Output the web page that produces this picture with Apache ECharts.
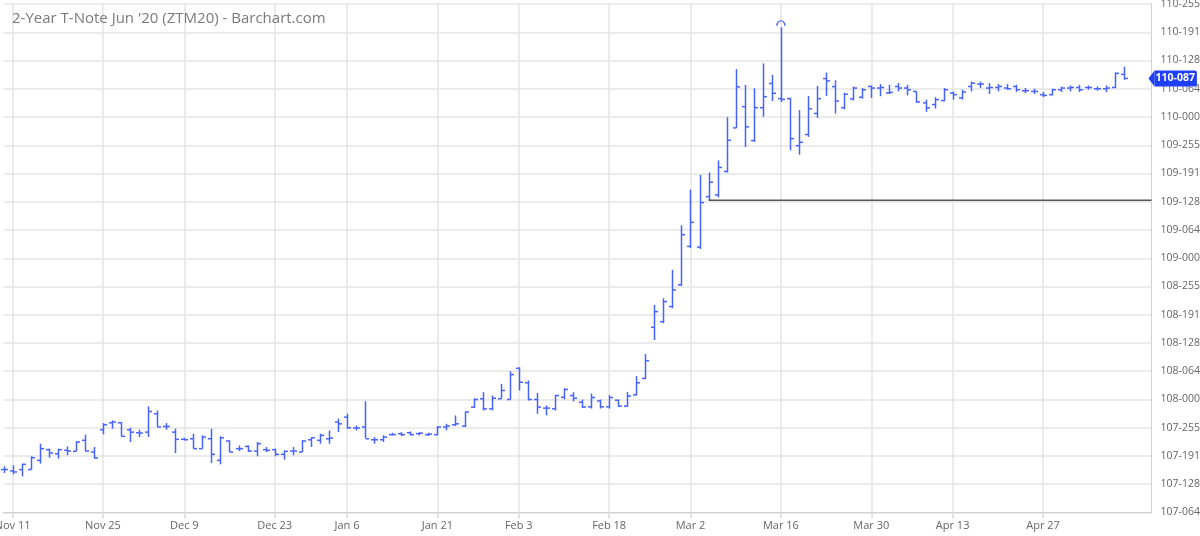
<!DOCTYPE html>
<html>
<head>
<meta charset="utf-8">
<script src="https://cdn.jsdelivr.net/npm/echarts@6/dist/echarts.min.js"></script>
<style>
html,body{margin:0;padding:0;background:#fff;}
#chart{width:1200px;height:536px;}
</style>
</head>
<body>
<div id="chart"></div>
<script>
const dates = ['Nov 8','Nov 11','Nov 12','Nov 13','Nov 14','Nov 15','Nov 18','Nov 19','Nov 20','Nov 21','Nov 22','Nov 25','Nov 26','Nov 27','Nov 29',
'Dec 2','Dec 3','Dec 4','Dec 5','Dec 6','Dec 9','Dec 10','Dec 11','Dec 12','Dec 13','Dec 16','Dec 17','Dec 18','Dec 19','Dec 20','Dec 23','Dec 24','Dec 26','Dec 27','Dec 30','Dec 31',
'Jan 2','Jan 3','Jan 6','Jan 7','Jan 8','Jan 9','Jan 10','Jan 13','Jan 14','Jan 15','Jan 16','Jan 17','Jan 21','Jan 22','Jan 23','Jan 24','Jan 27','Jan 28','Jan 29','Jan 30','Jan 31',
'Feb 3','Feb 4','Feb 5','Feb 6','Feb 7','Feb 10','Feb 11','Feb 12','Feb 13','Feb 14','Feb 18','Feb 19','Feb 20','Feb 21','Feb 24','Feb 25','Feb 26','Feb 27','Feb 28',
'Mar 2','Mar 3','Mar 4','Mar 5','Mar 6','Mar 9','Mar 10','Mar 11','Mar 12','Mar 13','Mar 16','Mar 17','Mar 18','Mar 19','Mar 20','Mar 23','Mar 24','Mar 25','Mar 26','Mar 27','Mar 30','Mar 31',
'Apr 1','Apr 2','Apr 3','Apr 6','Apr 7','Apr 8','Apr 9','Apr 13','Apr 14','Apr 15','Apr 16','Apr 17','Apr 20','Apr 21','Apr 22','Apr 23','Apr 24','Apr 27','Apr 28','Apr 29','Apr 30',
'May 1','May 4','May 5','May 6','May 7','May 8'];

const opens = [107.504,107.494,107.504,107.504,107.569,107.645,107.616,107.640,107.633,107.711,107.628,107.786,107.835,107.835,107.786,
107.765,107.769,107.899,107.809,107.769,107.718,107.722,107.652,107.722,107.569,107.706,107.652,107.668,107.635,107.645,107.645,107.612,107.635,107.628,107.715,107.711,
107.722,107.840,107.875,107.798,107.805,107.715,107.715,107.751,107.758,107.765,107.758,107.751,107.751,107.805,107.821,107.812,107.946,108.005,107.934,108.005,108.000,
108.221,108.118,108.000,107.939,107.934,108.016,108.028,107.981,107.948,107.990,107.948,107.995,107.953,108.033,108.149,108.511,108.551,108.658,108.812,
109.084,109.079,109.436,109.448,109.614,109.923,110.073,109.833,110.066,110.237,110.130,110.130,109.797,109.876,110.025,110.272,110.215,110.066,110.128,110.140,110.216,110.205,
110.170,110.216,110.205,110.181,110.100,110.088,110.116,110.170,110.135,110.216,110.233,110.205,110.209,110.205,110.216,110.186,110.181,110.158,110.158,110.193,110.205,
110.209,110.209,110.200,110.200,110.209,110.302];

const highs = [107.527,107.534,107.546,107.598,107.687,107.652,107.652,107.668,107.704,107.751,107.664,107.833,107.852,107.840,107.800,
107.786,107.951,107.922,107.833,107.793,107.729,107.758,107.746,107.793,107.739,107.711,107.675,107.675,107.699,107.664,107.652,107.640,107.664,107.711,107.734,107.758,
107.781,107.864,107.899,107.816,107.988,107.734,107.746,107.765,107.769,107.774,107.769,107.765,107.812,107.828,107.887,107.915,108.009,108.052,108.028,108.111,108.200,
108.228,108.134,108.047,107.958,108.033,108.080,108.052,108.000,108.042,108.000,108.031,108.000,108.054,108.166,108.322,108.670,108.717,108.918,109.233,
109.486,109.591,109.607,109.693,109.999,110.339,110.227,110.203,110.379,110.298,110.636,110.137,110.049,110.149,110.220,110.315,110.260,110.172,110.216,110.205,110.223,110.233,
110.228,110.240,110.228,110.181,110.123,110.140,110.205,110.181,110.193,110.251,110.251,110.240,110.233,110.233,110.228,110.205,110.200,110.177,110.200,110.216,110.223,
110.228,110.223,110.216,110.223,110.316,110.356];

const lows = [107.480,107.471,107.456,107.504,107.546,107.588,107.581,107.605,107.633,107.633,107.581,107.753,107.793,107.739,107.699,
107.734,107.734,107.805,107.786,107.621,107.711,107.652,107.652,107.551,107.541,107.628,107.635,107.628,107.598,107.628,107.598,107.574,107.605,107.628,107.664,107.687,
107.687,107.769,107.793,107.781,107.727,107.687,107.699,107.746,107.741,107.746,107.746,107.741,107.746,107.781,107.812,107.805,107.939,107.922,107.922,108.005,108.000,
108.064,107.993,107.899,107.887,107.922,108.000,107.986,107.941,107.936,107.936,107.936,107.948,107.948,108.028,108.144,108.421,108.540,108.646,108.805,
109.072,109.065,109.410,109.431,109.607,109.923,109.788,109.823,110.002,110.113,110.106,109.764,109.733,109.859,109.994,110.149,110.025,110.054,110.116,110.130,110.135,110.147,
110.163,110.181,110.153,110.100,110.037,110.060,110.112,110.123,110.123,110.181,110.205,110.163,110.181,110.193,110.177,110.170,110.163,110.140,110.153,110.177,110.181,
110.177,110.193,110.186,110.177,110.205,110.263];

const closes = [107.504,107.487,107.541,107.588,107.652,107.621,107.645,107.635,107.699,107.635,107.586,107.821,107.840,107.739,107.769,
107.762,107.915,107.805,107.809,107.718,107.715,107.652,107.734,107.612,107.729,107.628,107.652,107.635,107.687,107.640,107.612,107.633,107.635,107.706,107.729,107.746,
107.727,107.828,107.800,107.798,107.722,107.715,107.734,107.751,107.751,107.751,107.762,107.755,107.805,107.812,107.828,107.911,108.000,107.934,108.009,108.064,108.176,
108.122,108.000,107.946,107.939,108.028,108.071,108.009,107.946,108.014,107.948,108.014,107.953,108.024,108.118,108.274,108.622,108.693,108.776,109.167,
109.254,109.394,109.538,109.643,109.835,110.213,109.930,110.066,110.144,110.168,110.125,109.847,109.821,110.058,110.130,110.256,110.113,110.161,110.205,110.193,110.205,110.209,
110.174,110.205,110.193,110.107,110.065,110.123,110.193,110.158,110.177,110.240,110.233,110.209,110.216,110.200,110.193,110.186,110.181,110.153,110.193,110.205,110.209,
110.193,110.209,110.200,110.205,110.309,110.273];

const xTickLabels = ['Nov 11','Nov 25','Dec 9','Dec 23','Jan 6','Jan 21','Feb 3','Feb 18','Mar 2','Mar 16','Mar 30','Apr 13','Apr 27'];
const yTickLabels = ['107-064','107-128','107-191','107-255','108-000','108-064','108-128','108-191','108-255','109-000',
'109-064','109-128','109-191','109-255','110-000','110-064','110-128','110-191','110-255'];

const lastPrice = 110.2734;
const lastPriceLabel = '110-087';
const hLineValue = 109.41;
const hLineStart = 'Mar 4';
const titleText = "2-Year T-Note Jun '20 (ZTM20) - Barchart.com";

const barColor = '#4763ff';
const X_MIN = 0, X_MAX = 127;   // axis extent in category slots (empty slots after the last bar)
const data = dates.map((d, i) => [i, opens[i], highs[i], lows[i], closes[i]]);
const isTick = (idx, val) => xTickLabels.indexOf(val) >= 0;

let maxIdx = 0;
highs.forEach((h, i) => { if (h > highs[maxIdx]) maxIdx = i; });

const chart = echarts.init(document.getElementById('chart'), null, {renderer: 'canvas'});
chart.setOption({
  animation: false,
  backgroundColor: '#fff',
  title: {
    text: titleText, left: 7, top: 6,
    textStyle: {fontFamily: 'Open Sans', fontSize: 15, fontWeight: 'normal', color: '#7a7a7a'}
  },
  grid: {left: 3.5, right: 48.5, top: 4, bottom: 23.5, containLabel: false, outerBoundsMode: 'none'},
  xAxis: {
    type: 'category', data: dates, boundaryGap: false, min: X_MIN, max: X_MAX,
    axisLine: {show: true, lineStyle: {color: '#d0d0d0', width: 1}},
    axisTick: {show: true, length: 6, interval: isTick, lineStyle: {color: '#dcdcdc', width: 1.5}},
    axisLabel: {interval: isTick, color: '#666', fontFamily: 'Open Sans', fontSize: 11, margin: 8, hideOverlap: false},
    splitLine: {show: true, interval: isTick, lineStyle: {color: '#e4e4e4', width: 1.5}}
  },
  yAxis: {
    type: 'value', position: 'right', min: 107.2, max: 110.8, interval: 0.2, scale: true,
    axisLine: {show: true, lineStyle: {color: '#d0d0d0', width: 1}},
    axisTick: {show: false},
    axisLabel: {
      color: '#666', fontFamily: 'Open Sans', fontSize: 10.5, margin: 9, verticalAlign: 'middle',
      formatter: v => yTickLabels[Math.round((v - 107.2) / 0.2)] || ''
    },
    splitLine: {show: true, lineStyle: {color: '#e4e4e4', width: 1.5}}
  },
  series: [{
    type: 'custom',
    data: data,
    encode: {x: 0, y: [1, 2, 3, 4]},
    renderItem: function (params, api) {
      const i = api.value(0);
      const pO = api.coord([i, api.value(1)]);
      const pH = api.coord([i, api.value(2)]);
      const pL = api.coord([i, api.value(3)]);
      const pC = api.coord([i, api.value(4)]);
      const x = Math.round(pH[0]) + 0.5;
      const t = 3.5;
      const style = {stroke: barColor, lineWidth: 1.5};
      return {
        type: 'group',
        children: [
          {type: 'line', shape: {x1: x, y1: pH[1], x2: x, y2: pL[1]}, style: style},
          {type: 'line', shape: {x1: x - t, y1: pO[1], x2: x, y2: pO[1]}, style: style},
          {type: 'line', shape: {x1: x, y1: pC[1], x2: x + t, y2: pC[1]}, style: style}
        ]
      };
    },
    markPoint: {
      silent: true, animation: false,
      data: [{
        coord: [maxIdx, highs[maxIdx]],
        symbol: 'path://M0,10 A10,10 0 0 1 20,10',
        symbolSize: [8, 5], symbolOffset: [0, -4],
        itemStyle: {color: 'rgba(0,0,0,0)', borderColor: barColor, borderWidth: 1.2},
        label: {show: false}
      }]
    }
  }, {
    type: 'line',
    data: [[dates.indexOf(hLineStart), hLineValue], [X_MAX, hLineValue]],
    symbol: 'none', silent: true, clip: false,
    lineStyle: {color: '#555', width: 1.5}
  }, {
    type: 'scatter',
    data: [[X_MAX, lastPrice]],
    clip: false, silent: true,
    symbol: 'path://M0,8 L7,0 L7,16 Z',
    symbolSize: [6, 16], symbolOffset: [0, 0],
    itemStyle: {color: '#1f3ffb', opacity: 1},
    label: {
      show: true, position: 'right', distance: 0, formatter: lastPriceLabel,
      backgroundColor: '#1f3ffb', color: '#fff', fontWeight: 'bold',
      fontFamily: 'Open Sans', fontSize: 10.5, lineHeight: 16, height: 16, padding: [0, 2, 0, 1], borderRadius: [0, 2, 2, 0]
    }
  }]
});
</script>
</body>
</html>
